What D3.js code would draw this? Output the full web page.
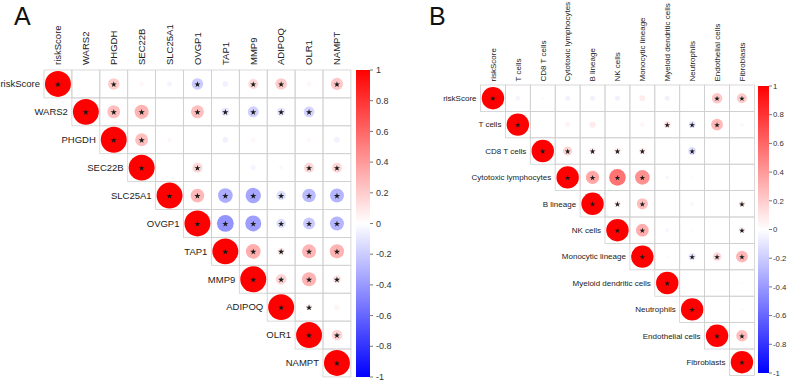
<!DOCTYPE html>
<html><head><meta charset="utf-8">
<script src="https://cdn.jsdelivr.net/npm/d3@7"></script>
<style>body{margin:0;background:#fff;} svg{display:block;font-family:"Liberation Sans",Arial,sans-serif;}</style>
</head><body><svg id="c" width="788" height="381"></svg>
<script>
// ---------- Panel A data (upper triangle rows, starting at the diagonal) ----------
const genesA = ["riskScore","WARS2","PHGDH","SEC22B","SLC25A1","OVGP1","TAP1","MMP9","ADIPOQ","OLR1","NAMPT"];
const corrA = [
  [1, 0.01, 0.2, 0.03, -0.04, -0.2, -0.05, 0.15, 0.2, 0.03, 0.22],
  [1, 0.25, 0.3, 0.01, 0.25, -0.1, -0.18, -0.1, -0.17, 0.01],
  [1, 0.25, 0.03, 0.0, -0.05, 0.03, 0.0, 0.03, -0.05],
  [1, 0.0, 0.15, 0.0, -0.04, 0.03, 0.15, 0.15],
  [1, 0.28, -0.32, -0.35, -0.13, -0.27, -0.29],
  [1, -0.42, -0.38, -0.13, -0.21, -0.29],
  [1, 0.32, 0.08, 0.29, 0.3],
  [1, 0.17, 0.3, 0.1],
  [1, 0.06, 0.04],
  [1, 0.17],
  [1]
];
const sigA = [
  "10100101101",
  "1110111110",
  "110000000",
  "10100011",
  "1111111",
  "111111",
  "11111",
  "1111",
  "110",
  "11",
  "1"
];

// ---------- Panel B data ----------
const cellsB = ["riskScore","T cells","CD8 T cells","Cytotoxic lymphocytes","B lineage","NK cells","Monocytic lineage","Myeloid dendritic cells","Neutrophils","Endothelial cells","Fibroblasts"];
const corrB = [
  [1, -0.04, -0.02, -0.05, -0.05, -0.05, 0.07, -0.05, 0.01, 0.22, 0.2],
  [1, 0.0, 0.05, 0.08, 0.0, 0.04, 0.1, -0.1, 0.28, 0.03],
  [1, 0.17, 0.08, 0.08, 0.08, 0.01, -0.12, 0.0, 0.0],
  [1, 0.35, 0.55, 0.43, -0.03, 0.02, 0.0, 0.01],
  [1, 0.08, 0.25, 0.0, -0.03, 0.01, 0.08],
  [1, 0.32, -0.03, 0.02, 0.0, 0.07],
  [1, -0.02, -0.1, 0.15, 0.28],
  [1, 0.01, 0.01, 0.02],
  [1, 0.01, 0.02],
  [1, 0.26],
  [1]
];
const sigB = [
  "10000000011",
  "1000001110",
  "111110100",
  "11110000",
  "1110001",
  "110001",
  "10111",
  "1000",
  "100",
  "11",
  "1"
];
const legendTicks = [1, 0.8, 0.6, 0.4, 0.2, 0, -0.2, -0.4, -0.6, -0.8, -1];

// ---------- drawing ----------
const svg = d3.select("#c");
const color = d3.scaleLinear().domain([-1, 0, 1]).range(["#0000FF", "#FFFFFF", "#FF0000"]);

const defs = svg.append("defs");
const grad = defs.append("linearGradient").attr("id", "cbar").attr("x1", 0).attr("y1", 0).attr("x2", 0).attr("y2", 1);
d3.range(0, 1.0001, 0.05).forEach(t => {
  grad.append("stop").attr("offset", t).attr("stop-color", color(1 - 2 * t));
});

function drawPanel(cfg) {
  const { names, corr, sig, x0, y0, cw, ch, font, starSize, title, tx, cb } = cfg;
  const n = names.length;
  const x = d3.scaleBand().domain(names).range([x0, x0 + n * cw]).padding(0);
  const y = d3.scaleBand().domain(names).range([y0, y0 + n * ch]).padding(0);
  const rMax = Math.min(cw, ch) / 2 * cfg.fill;
  const rScale = d3.scaleSqrt().domain([0, 1]).range([0, rMax]);
  const g = svg.append("g");

  const cells = [];
  corr.forEach((row, i) => row.forEach((v, k) => {
    const j = i + k;
    cells.push({ r: names[i], c: names[j], v, s: sig[i][k] === "1" });
  }));

  g.selectAll("rect.cell").data(cells).join("rect")
    .attr("x", d => x(d.c)).attr("y", d => y(d.r))
    .attr("width", x.bandwidth()).attr("height", y.bandwidth())
    .attr("fill", "none").attr("stroke", "#cfcfcf").attr("stroke-width", 0.8);

  g.selectAll("circle").data(cells).join("circle")
    .attr("cx", d => x(d.c) + x.bandwidth() / 2)
    .attr("cy", d => y(d.r) + y.bandwidth() / 2)
    .attr("r", d => rScale(Math.abs(d.v)))
    .attr("fill", d => color(d.v));

  const star = d3.symbol(d3.symbolStar, starSize);
  g.selectAll("path.star").data(cells.filter(d => d.s)).join("path")
    .attr("class", "star")
    .attr("d", star)
    .attr("transform", d => `translate(${x(d.c) + x.bandwidth() / 2},${y(d.r) + y.bandwidth() / 2 + 0.5})`)
    .attr("fill", "#1a1a1a");

  g.selectAll("text.rl").data(names).join("text")
    .attr("class", "rl")
    .attr("x", d => x(d) - 4)
    .attr("y", d => y(d) + y.bandwidth() / 2)
    .attr("dy", "0.35em")
    .attr("text-anchor", "end")
    .attr("font-size", font).attr("fill", "#222")
    .text(d => d);

  g.selectAll("text.cl").data(names).join("text")
    .attr("class", "cl")
    .attr("transform", d => `translate(${x(d) + x.bandwidth() / 2},${y0 - cfg.colGap}) rotate(-90)`)
    .attr("dy", "0.35em")
    .attr("text-anchor", "start")
    .attr("font-size", font).attr("fill", "#222")
    .text(d => d);

  svg.append("text").attr("x", tx).attr("y", 25).attr("font-size", 25).attr("fill", "#111").text(title);

  const cy = d3.scaleLinear().domain([1, -1]).range([cb.y0, cb.y1]);
  svg.append("rect").attr("x", cb.x).attr("y", cb.y0).attr("width", cb.w).attr("height", cb.y1 - cb.y0)
    .attr("fill", "url(#cbar)");
  const lg = svg.append("g");
  lg.selectAll("line").data(legendTicks).join("line")
    .attr("x1", cb.x + cb.w).attr("x2", cb.x + cb.w + 3)
    .attr("y1", d => cy(d)).attr("y2", d => cy(d))
    .attr("stroke", "#555").attr("stroke-width", 0.8);
  lg.selectAll("text").data(legendTicks).join("text")
    .attr("x", cb.x + cb.w + cb.gap).attr("y", d => cy(d)).attr("dy", "0.35em")
    .attr("font-size", cb.font).attr("fill", "#333")
    .text(d => String(d));
}

drawPanel({
  names: genesA, corr: corrA, sig: sigA,
  x0: 44, y0: 70, cw: 27.9, ch: 27.9, font: 9.5, starSize: 12, fill: 0.93, colGap: 5,
  title: "A", tx: 14,
  cb: { x: 356, y0: 70, y1: 377, w: 14, font: 9, gap: 6 }
});
drawPanel({
  names: cellsB, corr: corrB, sig: sigB,
  x0: 480.5, y0: 85, cw: 24.9, ch: 26.4, font: 8, starSize: 10, fill: 0.9, colGap: 3.5,
  title: "B", tx: 429,
  cb: { x: 758, y0: 86, y1: 373, w: 11, font: 7.8, gap: 4 }
});
</script></body></html>
